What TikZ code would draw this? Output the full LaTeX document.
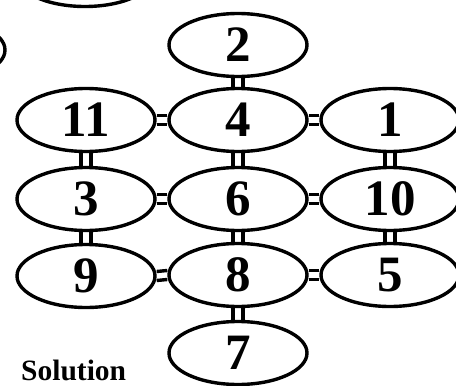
\documentclass[tikz,border=0pt]{standalone}
\usepackage{fontspec}
\setmainfont{Liberation Serif}
\usetikzlibrary{shapes.geometric}
\begin{document}
\begin{tikzpicture}[x=1pt,y=-1pt,
  cell/.style={draw,ellipse,line width=3.4pt,minimum width=138pt,minimum height=63pt,inner sep=0pt,
    font=\fontsize{51}{51}\selectfont\bfseries},
  link/.style={line width=3.4pt}]
\useasboundingbox (0,0) rectangle (456,386);
% partial ellipses at the top-left edge
\node[cell] (pa) at (85,-25) {};
\node[cell] (pb) at (-64,50) {};
% grid
\node[cell] (n2) at (238,45) {2};
\node[cell] (n11) at (86,120) {11};
\node[cell] (n4) at (238,120) {4};
\node[cell] (n1) at (390,120) {1};
\node[cell] (n3) at (86,199) {3};
\node[cell] (n6) at (238,199) {6};
\node[cell] (n10) at (390,199) {10};
\node[cell] (n9) at (86,276) {9};
\node[cell] (n8) at (238,275) {8};
\node[cell] (n5) at (390,275) {5};
\node[cell] (n7) at (238,353) {7};
\node[anchor=base west,inner sep=0pt,font=\fontsize{29.5}{29.5}\selectfont\bfseries] (sol) at (21,380) {Solution};
% vertical connectors
\foreach \a/\b in {n2/n4,n4/n6,n6/n8,n8/n7,n11/n3,n3/n9,n1/n10,n10/n5}{
  \draw[link] ([xshift=-5pt]\a.south) -- ([xshift=-5pt]\b.north);
  \draw[link] ([xshift=5pt]\a.south) -- ([xshift=5pt]\b.north);
}
% horizontal connectors
\foreach \a/\b in {n11/n4,n4/n1,n3/n6,n6/n10,n9/n8,n8/n5}{
  \draw[link] ([yshift=-4.5pt]\a.east) -- ([yshift=-4.5pt]\b.west);
  \draw[link] ([yshift=4.5pt]\a.east) -- ([yshift=4.5pt]\b.west);
}
\end{tikzpicture}
\end{document}
